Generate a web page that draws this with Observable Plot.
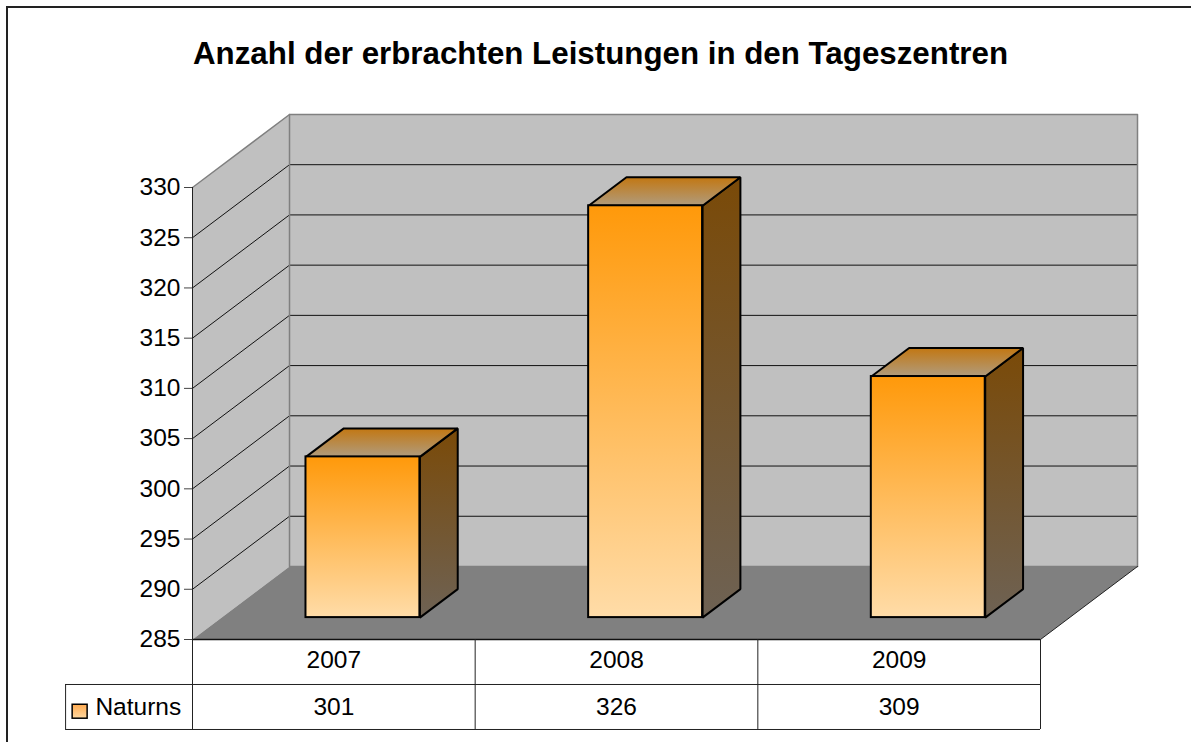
<!DOCTYPE html>
<html lang="de">
<head>
<meta charset="utf-8">
<title>Anzahl der erbrachten Leistungen in den Tageszentren</title>
<script src="https://cdn.jsdelivr.net/npm/d3@7"></script>
<script src="https://cdn.jsdelivr.net/npm/@observablehq/plot@0.6"></script>
<style>
html,body{margin:0;padding:0;background:#fff;overflow:hidden;width:1191px;height:742px}
#frame{position:absolute;left:6px;top:6px;width:1190px;height:742px;border-left:2px solid #222;border-top:2px solid #222;box-sizing:border-box;pointer-events:none}
#title{position:relative;height:90px;box-sizing:border-box;padding-top:36px;text-align:center;font:bold 31.3px "Liberation Sans",Arial,sans-serif;line-height:36px;color:#000;width:1201px;white-space:nowrap}
#chart svg{display:block}
</style>
</head>
<body>
<div id="frame"></div>
<div id="title">Anzahl der erbrachten Leistungen in den Tageszentren</div>
<div id="chart"></div>
<script>
// Data
const years = [2007, 2008, 2009];
const values = [301, 326, 309];
const seriesName = "Naturns";
const yTicks = [285, 290, 295, 300, 305, 310, 315, 320, 325, 330];
const yMin = 285, yMax = 330;

// Oblique projection, in data units of the x (categories) and y (values) scales
const depthX = 0.3432, depthY = 7.27;
const barWidth = 0.403, barNear = 0.3, barFar = 0.69;
const rowH = 4.48;                 // height of a table row in value units
const tableLeft = -0.449;          // left end of the table's legend column
const P = (x, v, d) => ({x: x + d * depthX, y: v + d * depthY});
const poly = (id, pts) => pts.map((p) => ({id, ...p}));

const leftWall = poly("l", [P(0, yMin, 0), P(0, yMax, 0), P(0, yMax, 1), P(0, yMin, 1)]);
const backWall = poly("b", [P(0, yMin, 1), P(0, yMax, 1), P(3, yMax, 1), P(3, yMin, 1)]);
const floor = poly("f", [P(0, yMin, 0), P(0, yMin, 1), P(3, yMin, 1), P(3, yMin, 0)]);
const gridLines = yTicks.slice(1, -1).flatMap((v) =>
  poly("g" + v, [P(0, v, 0), P(0, v, 1), P(3, v, 1)]));
const wallEdges = [
  ...poly("t", [P(0, yMax, 0), P(0, yMax, 1), P(3, yMax, 1), P(3, yMin, 1)]),
  ...poly("c", [P(0, yMax, 1), P(0, yMin, 1), P(3, yMin, 1)])
];
const floorEdge = poly("e", [P(3, yMin, 0), P(3, yMin, 1)]);

const bars = years.map((year, i) => {
  const xl = i + 0.5 - barWidth / 2, xr = xl + barWidth, v = values[i];
  return {
    year, v,
    front: {x1: P(xl, v, barNear).x, x2: P(xr, v, barNear).x, y1: P(xl, yMin, barNear).y, y2: P(xl, v, barNear).y},
    side: poly("s" + i, [P(xr, yMin, barNear), P(xr, v, barNear), P(xr, v, barFar), P(xr, yMin, barFar)]),
    top: poly("p" + i, [P(xl, v, barNear), P(xr, v, barNear), P(xr, v, barFar), P(xl, v, barFar)])
  };
});

const gradient = (id, from, to) => (g) => {
  const lg = g.append("linearGradient").attr("id", id).attr("x1", 0).attr("y1", 0).attr("x2", 0).attr("y2", 1);
  lg.append("stop").attr("offset", "0%").attr("stop-color", from);
  lg.append("stop").attr("offset", "100%").attr("stop-color", to);
};
const defs = () => {
  const g = d3.create("svg:defs");
  g.call(gradient("gFront", "#ff990a", "#ffdca8"));
  g.call(gradient("gSide", "#7a4a08", "#6e6254"));
  g.call(gradient("gTop", "#c27712", "#b09c7e"));
  g.call(gradient("gKey", "#ffaa50", "#ffd8a0"));
  return g.node();
};

const closed = (rows, opts) => Plot.line(rows, {x: "x", y: "y", z: "id", curve: "linear-closed", ...opts});
const open = (rows, opts) => Plot.line(rows, {x: "x", y: "y", z: "id", curve: "linear", ...opts});
const tableStroke = "#222";

const chart = Plot.plot({
  width: 1191,
  height: 652,
  marginLeft: 192,
  marginRight: 151,
  marginTop: 97,
  marginBottom: 103,
  style: {background: "transparent", fontFamily: "'Liberation Sans', Arial, sans-serif", fontSize: "24.5px", color: "#000"},
  x: {domain: [0, 3], axis: null},
  y: {domain: [yMin, yMax]},
  marks: [
    defs,
    closed(leftWall, {fill: "#c0c0c0", stroke: "none"}),
    closed(backWall, {fill: "#c0c0c0", stroke: "none"}),
    closed(floor, {fill: "#808080", stroke: "none"}),
    open(gridLines, {stroke: "#111", strokeWidth: 1}),
    open(wallEdges, {stroke: "#808080", strokeWidth: 1.5}),
    open(floorEdge, {stroke: "#222", strokeWidth: 1}),
    // bars
    ...bars.flatMap((b) => [
      closed(b.side, {fill: "url(#gSide)", stroke: "#000", strokeWidth: 2, strokeLinejoin: "miter"}),
      closed(b.top, {fill: "url(#gTop)", stroke: "#000", strokeWidth: 2, strokeLinejoin: "miter"}),
      Plot.rect([b.front], {x1: "x1", x2: "x2", y1: "y1", y2: "y2", fill: "url(#gFront)", stroke: "#000", strokeWidth: 2})
    ]),
    // value axis
    Plot.ruleX([0], {y1: yMin, y2: yMax, stroke: "#222", strokeWidth: 1}),
    Plot.axisY({ticks: yTicks, tickSize: 8, tickPadding: 4, label: null, stroke: "#444"}),
    // data table below the chart
    Plot.ruleY([yMin], {x1: 0, x2: 3, stroke: "#111", strokeWidth: 1.5}),
    Plot.ruleY([yMin - rowH, yMin - 2 * rowH], {x1: tableLeft, x2: 3, stroke: tableStroke, strokeWidth: 1}),
    Plot.ruleX([0, 1, 2, 3], {y1: yMin, y2: yMin - 2 * rowH, stroke: tableStroke, strokeWidth: 1}),
    Plot.ruleX([tableLeft], {y1: yMin - rowH, y2: yMin - 2 * rowH, stroke: tableStroke, strokeWidth: 1}),
    Plot.text(years, {x: (d, i) => i + 0.5, y: yMin - 0.46 * rowH, text: (d) => String(d), fill: "#000"}),
    Plot.text(values, {x: (d, i) => i + 0.5, y: yMin - 1.5 * rowH, text: (d) => String(d), fill: "#000"}),
    Plot.text([seriesName], {x: -0.04, y: yMin - 1.5 * rowH, text: (d) => d, textAnchor: "end", fill: "#000"}),
    Plot.rect([seriesName], {
      x1: tableLeft + 0.025, x2: tableLeft + 0.078,
      y1: yMin - 1.76 * rowH, y2: yMin - 1.45 * rowH,
      fill: "url(#gKey)", stroke: "#000", strokeWidth: 1.5
    })
  ]
});
document.getElementById("chart").append(chart);
</script>
</body>
</html>
